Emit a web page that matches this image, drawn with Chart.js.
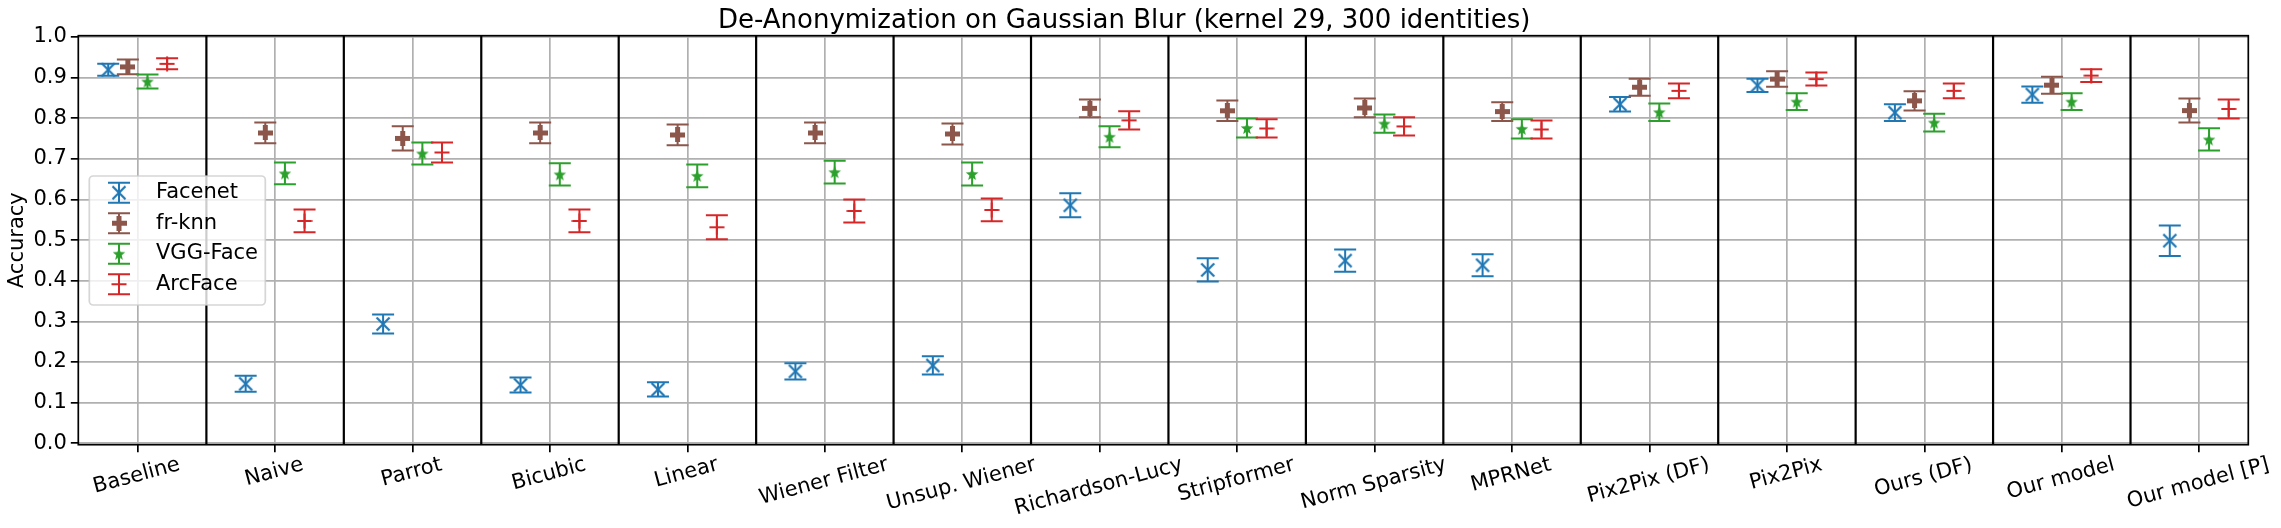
<!DOCTYPE html>
<html><head><meta charset="utf-8">
<script src="https://cdn.jsdelivr.net/npm/chart.js@4/dist/chart.umd.min.js"></script>
<style>html,body{margin:0;padding:0;background:#fff}canvas{display:block}</style>
</head><body>
<canvas id="c" width="2281" height="528"></canvas>
<script>
// ---------------- data ----------------
const categories = ['Baseline','Naive','Parrot','Bicubic','Linear','Wiener Filter','Unsup. Wiener','Richardson-Lucy','Stripformer','Norm Sparsity','MPRNet','Pix2Pix (DF)','Pix2Pix','Ours (DF)','Our model','Our model [P]'];
const seriesNames = ['Facenet','fr-knn','VGG-Face','ArcFace'];

const facenetMean = [0.919,0.1465,0.2935,0.1435,0.1325,0.177,0.1915,0.5855,0.4265,0.4495,0.438,0.834,0.8805,0.8135,0.858,0.4985];
const facenetErr  = [0.015,0.0195,0.0235,0.0185,0.0175,0.020,0.0225,0.0295,0.0285,0.0275,0.027,0.018,0.0165,0.0205,0.020,0.0375];

const frknnMean = [0.926,0.7635,0.750,0.7635,0.7585,0.7635,0.761,0.824,0.818,0.825,0.816,0.876,0.896,0.8425,0.881,0.8185];
const frknnErr  = [0.018,0.0255,0.030,0.0255,0.0255,0.0255,0.026,0.022,0.025,0.023,0.023,0.021,0.019,0.0235,0.021,0.0295];

const vggMean = [0.890,0.664,0.713,0.6615,0.658,0.667,0.6625,0.754,0.7755,0.7865,0.7735,0.8145,0.8405,0.789,0.8405,0.7475];
const vggErr  = [0.017,0.027,0.027,0.0275,0.028,0.028,0.0285,0.026,0.0235,0.0225,0.0235,0.0215,0.0205,0.022,0.0205,0.0275];

const arcMean = [0.9335,0.547,0.7155,0.547,0.5315,0.5715,0.574,0.7945,0.7745,0.7795,0.772,0.867,0.896,0.867,0.9045,0.8225];
const arcErr  = [0.0135,0.028,0.0245,0.028,0.0295,0.0285,0.028,0.0225,0.0225,0.0225,0.022,0.018,0.016,0.018,0.0155,0.0235];

const yTickValues = [0.0,0.1,0.2,0.3,0.4,0.5,0.6,0.7,0.8,0.9,1.0];

// ---------------- styles ----------------
const FONT = 'DejaVu Sans';
const seriesColors = ['#1f77b4','#8c564b','#2ca02c','#d62728'];
const seriesMarkers = ['x','P','star','plus'];
const seriesOffsets = [-1.5/7,-0.5/7,0.5/7,1.5/7];
const means = [facenetMean, frknnMean, vggMean, arcMean];
const errs = [facenetErr, frknnErr, vggErr, arcErr];

function makeMarker(kind, color) {
  const c = document.createElement('canvas');
  let s;
  if (kind === 'x') s = 16; else if (kind === 'P') s = 15; else if (kind === 'star') s = 14; else s = 16;
  c.width = s; c.height = s;
  const g = c.getContext('2d');
  g.strokeStyle = color; g.fillStyle = color; g.lineWidth = 2.2; g.lineCap = 'butt';
  if (kind === 'x') {
    g.beginPath(); g.moveTo(1.5,1.5); g.lineTo(s-1.5,s-1.5); g.moveTo(s-1.5,1.5); g.lineTo(1.5,s-1.5); g.stroke();
  } else if (kind === 'P') {
    const a = s/3;
    g.fillRect(0, a, s, a); g.fillRect(a, 0, a, s);
  } else if (kind === 'star') {
    const cx = s/2, cy = s/2+0.6, R = 6.6, r = 2.8;
    g.beginPath();
    for (let k = 0; k < 10; k++) {
      const ang = -Math.PI/2 + k*Math.PI/5;
      const rr = k % 2 ? r : R;
      const px = cx + rr*Math.cos(ang), py = cy + rr*Math.sin(ang);
      k ? g.lineTo(px,py) : g.moveTo(px,py);
    }
    g.closePath(); g.fill();
  } else {
    g.lineWidth = 2;
    g.beginPath(); g.moveTo(0.5,s/2); g.lineTo(s-0.5,s/2); g.moveTo(s/2,0.5); g.lineTo(s/2,s-0.5); g.stroke();
  }
  return c;
}
const markerImgs = seriesMarkers.map((m,k) => makeMarker(m, seriesColors[k]));

function drawErrBar(ctx, x, yTop, yBot, color) {
  ctx.save();
  ctx.strokeStyle = color; ctx.lineWidth = 2;
  ctx.beginPath();
  ctx.moveTo(x, yTop); ctx.lineTo(x, yBot);
  ctx.moveTo(x-11, yTop); ctx.lineTo(x+11, yTop);
  ctx.moveTo(x-11, yBot); ctx.lineTo(x+11, yBot);
  ctx.stroke();
  ctx.restore();
}

const decor = {
  id: 'decor',
  beforeDatasetsDraw(chart) {
    const ctx = chart.ctx, xs = chart.scales.x, ys = chart.scales.y, ca = chart.chartArea;
    // category separators
    ctx.save();
    ctx.strokeStyle = '#000'; ctx.lineWidth = 2.2;
    ctx.beginPath();
    for (let i = 0; i < categories.length - 1; i++) {
      const px = xs.getPixelForValue(i + 0.5);
      ctx.moveTo(px, ca.top); ctx.lineTo(px, ca.bottom);
    }
    ctx.stroke();
    ctx.restore();
    // error bars
    chart.data.datasets.forEach((ds, k) => {
      const meta = chart.getDatasetMeta(k);
      meta.data.forEach((pt, i) => {
        const yT = ys.getPixelForValue(means[k][i] + errs[k][i]);
        const yB = ys.getPixelForValue(means[k][i] - errs[k][i]);
        drawErrBar(ctx, pt.x, yT, yB, seriesColors[k]);
      });
    });
  },
  afterDatasetsDraw(chart) {
    const ctx = chart.ctx, ca = chart.chartArea;
    ctx.save();
    ctx.strokeStyle = '#000'; ctx.lineWidth = 1.7;
    ctx.strokeRect(ca.left, ca.top, ca.right - ca.left, ca.bottom - ca.top);
    ctx.restore();
  },
  afterDraw(chart) {
    const ctx = chart.ctx, xs = chart.scales.x, ca = chart.chartArea;
    // rotated category labels, centred on ticks
    ctx.save();
    ctx.font = '21px "' + FONT + '"'; ctx.fillStyle = '#000';
    ctx.textAlign = 'center'; ctx.textBaseline = 'middle';
    const th = 15*Math.PI/180, h = 21*1.164;
    const top = ca.bottom + 8;
    categories.forEach((lab, i) => {
      const w = ctx.measureText(lab).width;
      const H = w*Math.sin(th) + h*Math.cos(th);
      const cx = xs.getPixelForValue(i) - 1, cy = top + H/2;
      ctx.save(); ctx.translate(cx, cy); ctx.rotate(-th); ctx.fillText(lab, 0, 0); ctx.restore();
    });
    ctx.restore();
    // legend
    ctx.save();
    const lx = 89.3, ly = 176, lw = 176, lh = 129;
    ctx.beginPath();
    ctx.roundRect(lx, ly, lw, lh, 4);
    ctx.fillStyle = 'rgba(255,255,255,0.8)'; ctx.fill();
    ctx.strokeStyle = 'rgba(204,204,204,0.8)'; ctx.lineWidth = 1.7; ctx.stroke();
    ctx.font = '21px "' + FONT + '"'; ctx.fillStyle = '#000';
    ctx.textAlign = 'left'; ctx.textBaseline = 'middle';
    seriesNames.forEach((name, k) => {
      const cy = 192.7 + k*30.5, cx = 119;
      drawErrBar(ctx, cx, cy - 10, cy + 10, seriesColors[k]);
      const img = markerImgs[k];
      ctx.drawImage(img, cx - img.width/2, cy - img.height/2);
      ctx.fillStyle = '#000';
      ctx.fillText(name, 156, cy);
    });
    ctx.restore();
  }
};

const datasets = seriesNames.map((name, k) => ({
  label: name,
  data: categories.map((_, i) => ({x: i + seriesOffsets[k], y: means[k][i]})),
  pointStyle: markerImgs[k],
  pointRadius: 5,
  showLine: false
}));

new Chart(document.getElementById('c'), {
  type: 'scatter',
  data: { datasets },
  plugins: [decor],
  options: {
    responsive: false,
    devicePixelRatio: 1,
    animation: false,
    events: [],
    layout: { padding: { left: 0, right: 32.7, top: 0, bottom: 0 } },
    plugins: {
      legend: { display: false },
      tooltip: { enabled: false },
      title: {
        display: true,
        text: 'De-Anonymization on Gaussian Blur (kernel 29, 300 identities)',
        color: '#000',
        font: { family: FONT, size: 26, weight: 'normal', lineHeight: 1.1 },
        padding: { top: 6.7, bottom: 0.4 }
      }
    },
    scales: {
      x: {
        type: 'linear', min: -0.432, max: 15.357,
        afterBuildTicks: s => { s.ticks = categories.map((_, i) => ({value: i})); },
        afterFit: s => { s.height = 83.3; },
        ticks: { display: false },
        grid: { color: '#b0b0b0', lineWidth: 1.7, tickColor: '#000', tickWidth: 1.7, tickLength: 7.5 },
        border: { display: false }
      },
      y: {
        type: 'linear', min: -0.0034, max: 1.0027,
        afterBuildTicks: s => { s.ticks = yTickValues.map(v => ({value: v})); },
        afterFit: s => { s.width = 78.3; },
        ticks: { autoSkip: false, color: '#000', font: { family: FONT, size: 21 }, padding: 4, callback: v => Number(v).toFixed(1) },
        title: { display: true, text: 'Accuracy', color: '#000', font: { family: FONT, size: 21 }, padding: { top: 5, bottom: 0 } },
        grid: { color: '#b0b0b0', lineWidth: 1.7, tickColor: '#000', tickWidth: 1.7, tickLength: 7.5 },
        border: { display: false }
      }
    }
  }
});
</script>
</body></html>
